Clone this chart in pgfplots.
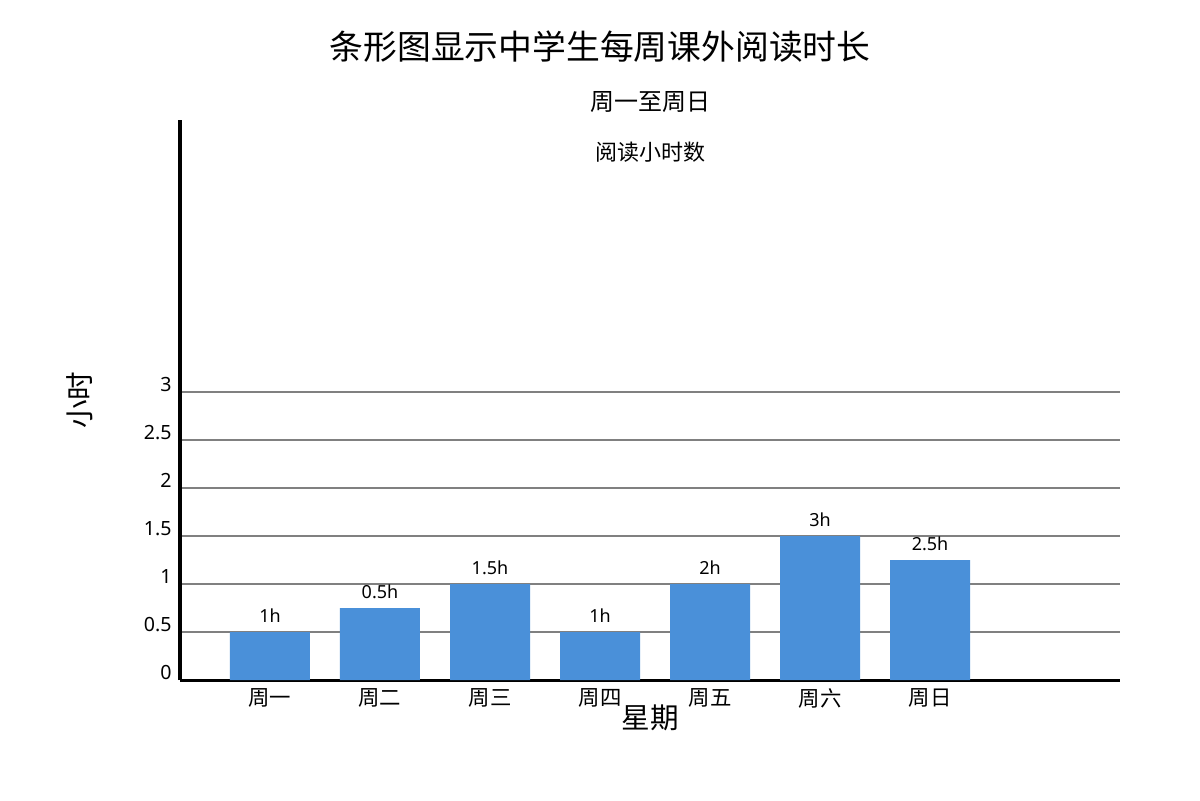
\documentclass[border=0pt]{standalone}
\usepackage{fontspec}
\setmainfont{Noto Sans}
\newfontfamily\cjk{Noto Sans CJK SC}
\usepackage{pgfplots}
\pgfplotsset{compat=1.18}
\definecolor{barblue}{HTML}{4A90D9}
\definecolor{gridgray}{HTML}{808080}

\begin{document}
\begin{tikzpicture}
  % page frame: 1200x800 px at 0.5pt per px
  \path[use as bounding box] (0,0) rectangle (600pt,400pt);
  \begin{axis}[
      at={(90pt,60pt)}, anchor=south west,
      scale only axis,
      width=470pt, height=280pt,
      xmin=-0.818, xmax=7.727,
      ymin=0, ymax=5.8333,
      axis x line=bottom, axis y line=left,
      axis line style={-, line width=1.5pt, black},
      xtick={0,...,6},
      xticklabels={周一,周二,周三,周四,周五,周六,周日},
      xticklabel style={font=\cjk\fontsize{10.7}{12}\selectfont, anchor=north, inner sep=0pt, yshift=-4pt},
      ytick={0,0.5,...,3},
      yticklabels={0,0.5,1,1.5,2,2.5,3},
      yticklabel style={font=\fontsize{9.8}{11}\selectfont, anchor=south east, inner sep=0pt, xshift=-4pt},
      /pgf/number format/assume math mode=true,
      major tick length=0pt,
      ymajorgrids=true,
      grid style={gridgray, line width=1pt},
      ybar, bar width=40pt,
      point meta=explicit symbolic,
      nodes near coords,
      nodes near coords style={font=\fontsize{9}{10}\selectfont, anchor=south, inner sep=0pt, yshift=4.5pt},
    ]
    \addplot[fill=barblue, draw=none] coordinates {
      (0,0.5) [1h]
      (1,0.75) [0.5h]
      (2,1) [1.5h]
      (3,0.5) [1h]
      (4,1) [2h]
      (5,1.5) [3h]
      (6,1.25) [2.5h]
    };
  \end{axis}
  \node[font=\cjk\fontsize{16.9}{19}\selectfont] at (300pt,376.5pt) {条形图显示中学生每周课外阅读时长};
  \node[font=\cjk\fontsize{12}{14}\selectfont] at (325pt,349pt) {周一至周日};
  \node[font=\cjk\fontsize{11}{13}\selectfont] at (325pt,324pt) {阅读小时数};
  \node[font=\cjk\fontsize{14.3}{16}\selectfont, rotate=90] at (40pt,200pt) {小时};
  \node[font=\cjk\fontsize{14.3}{16}\selectfont] at (325pt,41pt) {星期};
\end{tikzpicture}
\end{document}
